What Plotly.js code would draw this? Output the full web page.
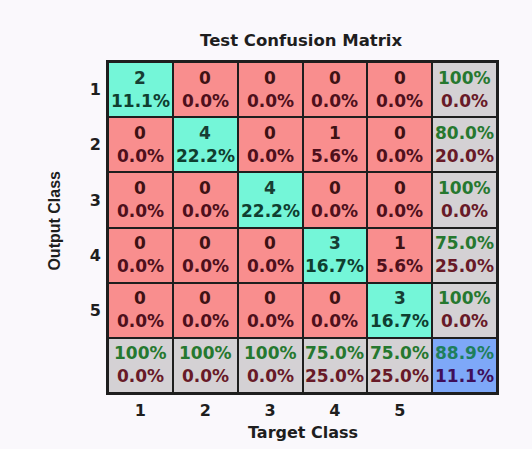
<!DOCTYPE html>
<html>
<head>
<meta charset="utf-8">
<script src="https://cdn.plot.ly/plotly-3.0.1.min.js"></script>
<style>html,body{margin:0;padding:0;background:#faf8fc;}#chart{width:532px;height:449px;}</style>
</head>
<body>
<div id="chart"></div>
<script>
// ---- data ----
const classLabels = ['1', '2', '3', '4', '5'];
// counts[row = output class][col = target class]
const counts = [
  [2, 0, 0, 0, 0],
  [0, 4, 0, 1, 0],
  [0, 0, 4, 0, 0],
  [0, 0, 0, 3, 1],
  [0, 0, 0, 0, 3]
];
const percents = [
  ['11.1%', '0.0%', '0.0%', '0.0%', '0.0%'],
  ['0.0%', '22.2%', '0.0%', '5.6%', '0.0%'],
  ['0.0%', '0.0%', '22.2%', '0.0%', '0.0%'],
  ['0.0%', '0.0%', '0.0%', '16.7%', '5.6%'],
  ['0.0%', '0.0%', '0.0%', '0.0%', '16.7%']
];
const rowCorrect = ['100%', '80.0%', '100%', '75.0%', '100%'];
const rowWrong   = ['0.0%', '20.0%', '0.0%', '25.0%', '0.0%'];
const colCorrect = ['100%', '100%', '100%', '75.0%', '75.0%'];
const colWrong   = ['0.0%', '0.0%', '0.0%', '25.0%', '25.0%'];
const totalCorrect = '88.9%';
const totalWrong = '11.1%';

// ---- styling ----
const C_RED = '#f98e8e', C_GREEN = '#74f6d8', C_GRAY = '#d4d1d4', C_BLUE = '#7ea8f8';
const FONT = 'DejaVu Sans, Verdana, sans-serif';
const n = classLabels.length;

// category code per cell: 0 red, 1 green, 2 gray, 3 blue
const xs = [], ys = [];
for (let i = 1; i <= n + 1; i++) { xs.push(i); ys.push(i); }
const z = [];
for (let r = 0; r <= n; r++) {
  const row = [];
  for (let c = 0; c <= n; c++) {
    if (r === n && c === n) row.push(3);
    else if (r === n || c === n) row.push(2);
    else row.push(r === c ? 1 : 0);
  }
  z.push(row);
}

const trace = {
  type: 'heatmap',
  x: xs, y: ys, z: z,
  zmin: 0, zmax: 3,
  colorscale: [
    [0, C_RED], [0.25, C_RED],
    [0.25, C_GREEN], [0.5, C_GREEN],
    [0.5, C_GRAY], [0.75, C_GRAY],
    [0.75, C_BLUE], [1, C_BLUE]
  ],
  showscale: false,
  xgap: 2, ygap: 2,
  hoverinfo: 'skip'
};

const ann = [];
function cellText(x, y, top, bottom, topColor, botColor) {
  ann.push({x: x, y: y, xref: 'x', yref: 'y', text: '<b>' + top + '</b>',
    showarrow: false, yshift: 12, font: {family: FONT, size: 17, color: topColor}});
  ann.push({x: x, y: y, xref: 'x', yref: 'y', text: '<b>' + bottom + '</b>',
    showarrow: false, yshift: -11, font: {family: FONT, size: 17, color: botColor}});
}
for (let r = 0; r < n; r++) {
  for (let c = 0; c < n; c++) {
    const diag = r === c;
    cellText(c + 1, r + 1, String(counts[r][c]), percents[r][c],
      diag ? '#173e34' : '#3e1214', diag ? '#0f3e30' : '#4e101c');
  }
  cellText(n + 1, r + 1, rowCorrect[r], rowWrong[r], '#26782f', '#681a28');
}
for (let c = 0; c < n; c++) {
  cellText(c + 1, n + 1, colCorrect[c], colWrong[c], '#26782f', '#681a28');
}
cellText(n + 1, n + 1, totalCorrect, totalWrong, '#1e7f5c', '#3e0e5a');

ann.push({xref: 'paper', yref: 'paper', x: 0.5, y: -0.118, text: '<b>Target Class</b>',
  showarrow: false, yanchor: 'middle', font: {family: FONT, size: 16, color: '#1e1e1e'}});
ann.push({xref: 'paper', yref: 'paper', x: -0.137, y: 0.52, xanchor: 'center', yanchor: 'middle',
  text: '<b>Output Class</b>', textangle: -90, showarrow: false,
  font: {family: 'Liberation Sans Narrow, Liberation Sans, Arial, sans-serif', size: 16, color: '#1e1e1e'}});

const layout = {
  width: 532, height: 449,
  margin: {l: 108, r: 35, t: 62, b: 56},
  paper_bgcolor: '#faf8fc',
  plot_bgcolor: '#1e1e1e',
  title: {text: '<b>Test Confusion Matrix</b>', x: 0.566, xanchor: 'center',
    y: 1 - 40 / 449, yref: 'container', yanchor: 'middle',
    font: {family: FONT, size: 16.5, color: '#1e1e1e'}},
  xaxis: {range: [0.5, n + 1.5], tickvals: xs.slice(0, n), ticktext: classLabels.map(s => '<b>' + s + '</b>'),
    showgrid: false, zeroline: false, ticks: '', ticklabelstandoff: 2,
    showline: true, mirror: true, linecolor: '#1e1e1e', linewidth: 2,
    tickfont: {family: FONT, size: 16, color: '#1e1e1e'}, fixedrange: true},
  yaxis: {range: [n + 1.5, 0.5], tickvals: ys.slice(0, n), ticktext: classLabels.map(s => '<b>' + s + '</b>'),
    showgrid: false, zeroline: false, ticks: '', ticklabelstandoff: 2,
    showline: true, mirror: true, linecolor: '#1e1e1e', linewidth: 2,
    tickfont: {family: FONT, size: 16, color: '#1e1e1e'}, fixedrange: true},
  annotations: ann,
  showlegend: false
};

Plotly.newPlot('chart', [trace], layout, {displayModeBar: false, staticPlot: true});
</script>
</body>
</html>
